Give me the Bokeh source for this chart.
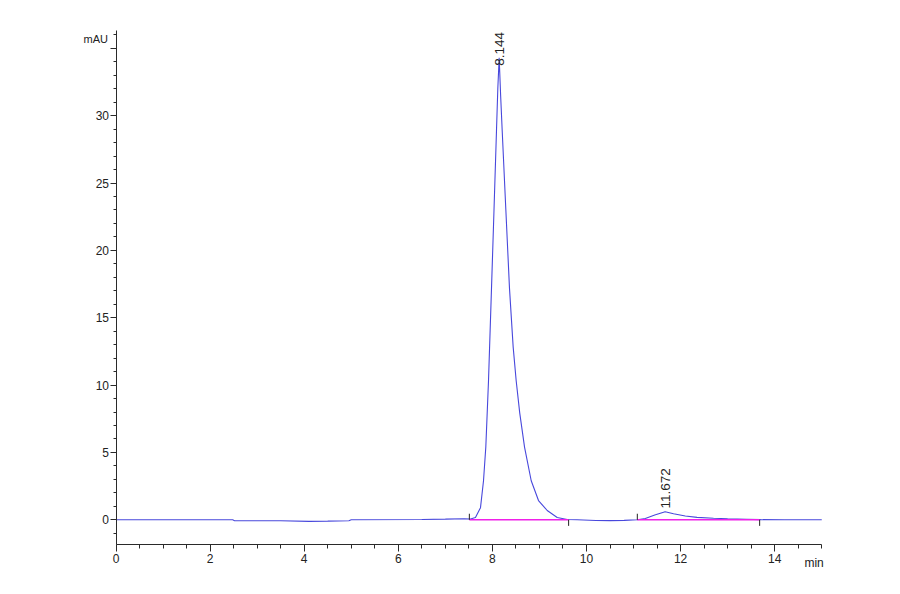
import math
from bokeh.plotting import figure
from bokeh.models import Range1d, Label, FixedTicker, ColumnDataSource
from bokeh.core.properties import value
from bokeh.embed import file_html
from bokeh.resources import INLINE

# Chromatogram trace (time in min, signal in mAU)
times = [0.0, 2.48, 2.52, 3.5, 4.1, 4.5, 4.95, 5.0, 6.5, 7.0, 7.4, 7.535,
         7.64, 7.747, 7.811, 7.86, 7.917, 7.981, 8.034, 8.087, 8.115, 8.144,
         8.175, 8.208, 8.286, 8.363, 8.442, 8.506, 8.582, 8.683, 8.825, 8.98,
         9.165, 9.377, 9.59, 9.8, 10.2, 10.5, 10.8, 11.08, 11.25, 11.45,
         11.672, 11.85, 12.1, 12.35, 12.7, 13.0, 13.4, 13.7, 14.2, 15.0]
signal = [0.0, 0.0, -0.07, -0.07, -0.12, -0.1, -0.07, 0.0, 0.02, 0.05, 0.08, 0.06,
          0.17, 0.9, 2.9, 5.4, 10.3, 17.2, 23.0, 28.9, 32.0, 34.3,
          31.5, 28.9, 23.0, 17.2, 12.8, 10.3, 7.9, 5.4, 2.9, 1.43,
          0.69, 0.17, 0.02, 0.0, -0.05, -0.06, -0.04, 0.0, 0.1, 0.35,
          0.6, 0.45, 0.28, 0.18, 0.12, 0.08, 0.04, 0.01, 0.0, 0.0]

# Integration events
peak_start = [7.51, 11.08]
peak_end = [9.62, 13.68]
baseline_level = [0.0, 0.0]

# Peak annotations
peak_rt = [8.144, 11.672]
peak_label = ["8.144", "11.672"]
label_y = [33.7, 0.84]

# Axes
x_min, x_max = 0.0, 15.0
y_min, y_max = -1.8, 36.3
x_major = [0, 2, 4, 6, 8, 10, 12, 14]
x_minor = [i * 0.5 for i in range(0, 31)]
y_major = [0, 5, 10, 15, 20, 25, 30, 35]
y_minor = list(range(-1, 37))
y_labels = {35: ""}
y_unit = "mAU"
x_unit = "min"

TRACE = "#4848dc"
BASE = "#f020e8"
AX = "#2a2a2a"
TXT = "#222222"
FONT = "Liberation Sans"

p = figure(frame_width=780, frame_height=564,
           x_range=Range1d(-1.1796, 15.3985), y_range=Range1d(-3.764, 38.107),
           output_backend="svg", toolbar_location=None,
           min_border_left=60, min_border_right=30,
           min_border_top=6, min_border_bottom=0,
           background_fill_color="white", border_fill_color="white")
p.xgrid.visible = False
p.ygrid.visible = False
p.outline_line_color = None

xa = p.xaxis[0]
xa.fixed_location = y_min
xa.bounds = (x_min, x_max)
xa.ticker = FixedTicker(ticks=x_major, minor_ticks=x_minor)
xa.major_tick_in = 0
xa.major_tick_out = 7
xa.minor_tick_in = 0
xa.minor_tick_out = 4
xa.axis_line_color = AX
xa.major_tick_line_color = AX
xa.minor_tick_line_color = AX
xa.major_label_text_font = FONT
xa.major_label_text_font_size = "12px"
xa.major_label_text_color = TXT
xa.major_label_standoff = 3

ya = p.yaxis[0]
ya.fixed_location = x_min
ya.bounds = (y_min, y_max)
ya.ticker = FixedTicker(ticks=y_major, minor_ticks=y_minor)
ya.major_label_overrides = y_labels
ya.major_tick_in = 0
ya.major_tick_out = 6
ya.minor_tick_in = 0
ya.minor_tick_out = 3
ya.axis_line_color = AX
ya.major_tick_line_color = AX
ya.minor_tick_line_color = AX
ya.major_label_text_font = FONT
ya.major_label_text_font_size = "12px"
ya.major_label_text_color = TXT
ya.major_label_standoff = 1

src = ColumnDataSource(dict(t=times, s=signal))
p.line("t", "s", source=src, line_color=TRACE, line_width=1.1)

# baselines
p.segment(x0=peak_start, y0=baseline_level, x1=peak_end, y1=baseline_level,
          line_color=BASE, line_width=1.6)
# event markers: starts above baseline, ends below
p.segment(x0=peak_start, y0=baseline_level, x1=peak_start,
          y1=[b + 0.45 for b in baseline_level], line_color=TXT, line_width=1)
p.segment(x0=peak_end, y0=baseline_level, x1=peak_end,
          y1=[b - 0.45 for b in baseline_level], line_color=TXT, line_width=1)

p.text(x=peak_rt, y=label_y, text=peak_label, angle=math.pi / 2,
       text_align="left", text_baseline="middle",
       text_font=value(FONT), text_font_size="13.5px", text_color=TXT)

p.add_layout(Label(x=x_min, y=35.7, x_offset=-8, text=y_unit, text_align="right",
                   text_baseline="middle", text_font=FONT,
                   text_font_size="11px", text_color=TXT))
p.add_layout(Label(x=x_max, y=y_min, x_offset=2, y_offset=-19, text=x_unit,
                   text_align="right", text_baseline="alphabetic",
                   text_font=FONT, text_font_size="12px", text_color=TXT))

open("out.html", "w").write(file_html(p, INLINE))
